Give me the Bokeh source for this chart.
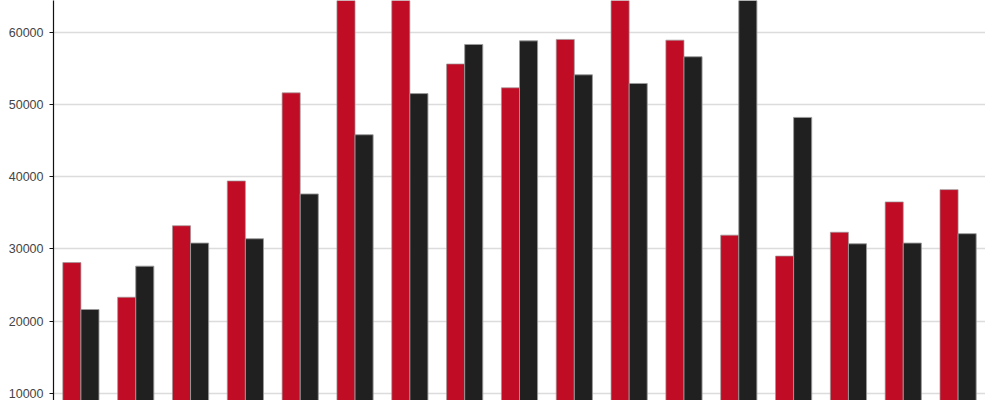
from bokeh.plotting import figure
from bokeh.models import FactorRange, Range1d, SingleIntervalTicker, ColumnDataSource
from bokeh.transform import dodge
from bokeh.embed import file_html
from bokeh.resources import INLINE

categories = [str(i) for i in range(1, 18)]
series_a = [28100, 23300, 33200, 39400, 51600, 70000, 72000, 55600, 52300,
            59000, 68000, 58900, 31900, 29000, 32300, 36500, 38200]
series_b = [21600, 27600, 30800, 31400, 37600, 45800, 51500, 58300, 58800,
            54100, 52900, 56600, 66000, 48200, 30700, 30800, 32100]

source = ColumnDataSource(dict(cat=categories, a=series_a, b=series_b))

p = figure(x_range=FactorRange(*categories), y_range=Range1d(9000, 64390),
           width=985, height=400, output_backend="svg", toolbar_location=None,
           min_border_left=53, min_border_right=0, min_border_top=0, min_border_bottom=0)

p.vbar(x=dodge("cat", -0.165, range=p.x_range), top="a", width=0.33, bottom=0,
       source=source, fill_color="#C10C25", line_color="#9a9a9a", line_alpha=0.7, line_width=1)
p.vbar(x=dodge("cat", 0.165, range=p.x_range), top="b", width=0.33, bottom=0,
       source=source, fill_color="#202020", line_color="#9a9a9a", line_alpha=0.9, line_width=1)

p.xaxis.visible = False
p.xgrid.grid_line_color = None
p.ygrid.grid_line_color = "#dcdcdc"
p.ygrid.grid_line_width = 1.5
p.outline_line_color = None

ax = p.yaxis[0]
ax.ticker = SingleIntervalTicker(interval=10000)
ax.axis_line_color = "#111111"
ax.axis_line_width = 1.2
ax.major_tick_out = 4
ax.major_tick_in = 0
ax.minor_tick_line_color = None
ax.major_tick_line_color = "#111111"
ax.major_label_standoff = 6
ax.major_label_text_font = "Liberation Sans"
ax.major_label_text_font_size = "12.5px"
ax.major_label_text_color = "#444444"

open("out.html", "w").write(file_html(p, INLINE))
